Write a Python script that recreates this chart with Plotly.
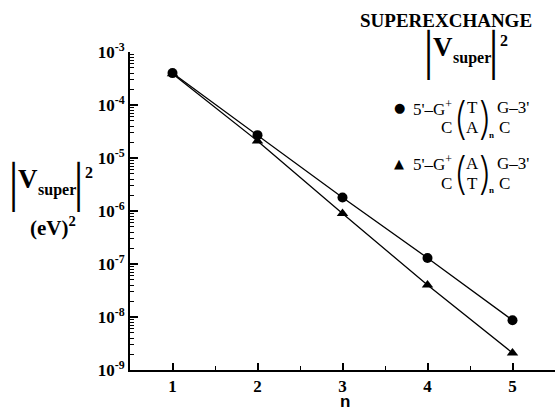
import plotly.graph_objects as go

# ---- data ----
n_values = [1, 2, 3, 4, 5]
v_super_TA = [4.0e-4, 2.7e-5, 1.8e-6, 1.3e-7, 8.7e-9]   # circles: 5'-G+(T)nG-3'
v_super_AT = [3.9e-4, 2.1e-5, 9.0e-7, 4.0e-8, 2.1e-9]   # triangles: 5'-G+(A)nG-3'
y_tick_vals = [1e-3, 1e-4, 1e-5, 1e-6, 1e-7, 1e-8, 1e-9]
y_tick_text = ["10<sup>-3</sup>", "10<sup>-4</sup>", "10<sup>-5</sup>", "10<sup>-6</sup>",
               "10<sup>-7</sup>", "10<sup>-8</sup>", "10<sup>-9</sup>"]
x_tick_vals = [1, 2, 3, 4, 5]
x_tick_text = ["1", "2", "3", "4", "5"]

W, H = 557, 411
L, R, T, B = 130, 2, 52, 41
PW, PH = W - L - R, H - T - B

SERIF = "Liberation Serif, Times New Roman, serif"
SANS = "Liberation Sans, Arial, sans-serif"
THIN = "Inter, DejaVu Sans, sans-serif"


def px(x):
    return (x - L) / PW


def py(y):
    return (H - B - y) / PH


fig = go.Figure()
fig.add_trace(go.Scatter(x=n_values, y=v_super_AT, mode="lines+markers",
                         line=dict(color="black", width=1.3),
                         marker=dict(symbol="triangle-up", size=10, color="black"),
                         showlegend=False, hoverinfo="skip"))
fig.add_trace(go.Scatter(x=n_values, y=v_super_TA, mode="lines+markers",
                         line=dict(color="black", width=1.3),
                         marker=dict(symbol="circle", size=10, color="black"),
                         showlegend=False, hoverinfo="skip"))

ann = []


def text(x, y, s, size, xa="center", ya="middle", family=SERIF, weight="normal"):
    ann.append(dict(x=px(x), y=py(y), xref="paper", yref="paper", text=s,
                    showarrow=False, xanchor=xa, yanchor=ya,
                    font=dict(family=family, size=size, color="black", weight=weight)))


def vsuper(x0, yc):
    # |V_super|^2 group: x0 = left bar position, yc = vertical center
    text(x0, yc + 1, "|", 42, family=THIN, weight=300)
    text(x0 + 15, yc - 6, "V", 27, weight="bold")
    text(x0 + 44, yc + 5, "super", 16, weight="bold")
    text(x0 + 65, yc + 1, "|", 42, family=THIN, weight=300)
    text(x0 + 76, yc - 13, "2", 16, weight="bold")


# title
text(446, 21, "SUPEREXCHANGE", 19, weight="bold")
vsuper(428, 53)

# left axis label
vsuper(13, 185)
text(53, 226, "(eV)<sup>2</sup>", 21, weight="bold")


def entry(y1, sym, top, bottom):
    y2 = y1 + 20
    ym = (y1 + y2) / 2
    text(399, y1, sym, 13, family="DejaVu Sans")
    text(454, y1, "5'–G<sup>+</sup>", 17, xa="right")
    text(460, ym, "(", 44, family=THIN, weight=200)
    text(472, y1, top, 17)
    text(485, ym, ")", 44, family=THIN, weight=200)
    text(495, y1, "G–3'", 17, xa="left")
    text(454, y2, "C", 17, xa="right")
    text(472, y2, bottom, 17)
    text(491, y2 + 7, "n", 9, weight="bold")
    text(497, y2, "C", 17, xa="left")


entry(108, "●", "T", "A")
entry(163, "▲", "A", "T")

# x-axis title
text(345, 401, "n", 17, family=SANS, weight="bold")

fig.update_layout(
    width=W, height=H,
    margin=dict(l=L, r=R, t=T, b=B, pad=0),
    paper_bgcolor="white", plot_bgcolor="white",
    annotations=ann,
    xaxis=dict(range=[0.5, 5.5], tickmode="array", tickvals=x_tick_vals, ticktext=x_tick_text,
               ticks="inside", ticklen=7, tickwidth=1.5, tickcolor="black",
               showline=True, linecolor="black", linewidth=2, showgrid=False, zeroline=False,
               tickfont=dict(family=SERIF, size=17, color="black", weight="bold"),
               minor=dict(tickmode="array", tickvals=[0.5, 1.5, 2.5, 3.5, 4.5, 5.5],
                          ticks="inside", ticklen=4, tickwidth=1.2, tickcolor="black",
                          showgrid=False)),
    yaxis=dict(type="log", range=[-9, -3], tickmode="array", tickvals=y_tick_vals,
               ticktext=y_tick_text,
               ticks="inside", ticklen=8, tickwidth=1.5, tickcolor="black",
               showline=True, linecolor="black", linewidth=2, showgrid=False, zeroline=False,
               tickfont=dict(family=SERIF, size=17, color="black", weight="bold"),
               minor=dict(tickmode="array",
                          tickvals=[k * 10.0 ** e for e in range(-9, -3) for k in range(2, 10)],
                          ticks="inside", ticklen=4, tickwidth=1, tickcolor="black",
                          showgrid=False)),
)

fig.write_html("out.html", config={"displayModeBar": False},
               post_script="document.body.style.margin='0';document.body.style.overflow='hidden';")
